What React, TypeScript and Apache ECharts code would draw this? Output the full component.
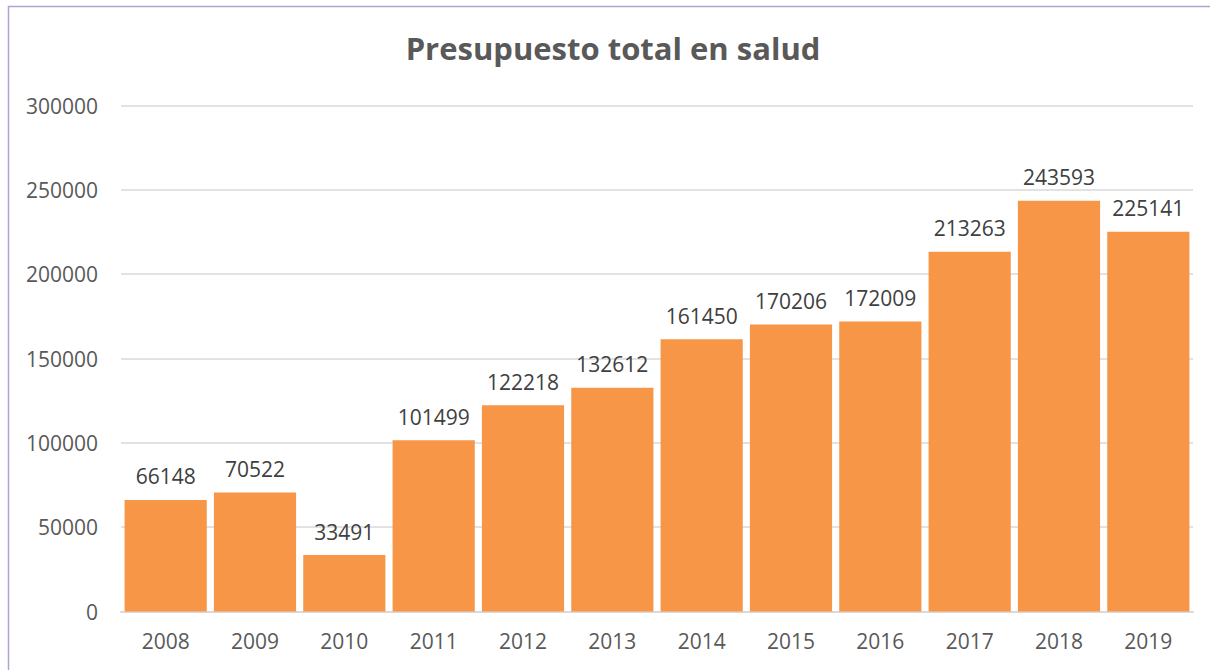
import React, { useEffect, useRef } from "react";
import * as echarts from "echarts";

const titleText = "Presupuesto total en salud";
const years = ["2008", "2009", "2010", "2011", "2012", "2013", "2014", "2015", "2016", "2017", "2018", "2019"];
const budget = [66148, 70522, 33491, 101499, 122218, 132612, 161450, 170206, 172009, 213263, 243593, 225141];

export default function App() {
  const ref = useRef<HTMLDivElement>(null);
  useEffect(() => {
    const chart = echarts.init(ref.current!, null, { renderer: "svg" });
    const font = "'Open Sans', 'Noto Sans', sans-serif";
    chart.setOption({
      animation: false,
      backgroundColor: "#ffffff",
      title: {
        text: titleText,
        left: 608,
        textAlign: "center",
        top: 27,
        textStyle: { fontFamily: font, fontSize: 31, fontWeight: "bold", color: "#595959" },
      },
      graphic: [
        {
          type: "rect",
          shape: { x: 8.5, y: 6.5, width: 1300, height: 700 },
          style: { fill: "none", stroke: "#b4a2d0", lineWidth: 1.5 },
          silent: true,
        },
      ],
      grid: { left: 121, right: 17, top: 105.5, bottom: 58.5, containLabel: false },
      xAxis: {
        type: "category",
        data: years,
        axisLine: { lineStyle: { color: "#d9d9d9", width: 2 } },
        axisTick: { show: false },
        axisLabel: { fontFamily: font, fontSize: 21, color: "#595959", margin: 19 },
      },
      yAxis: {
        type: "value",
        min: 0,
        max: 300000,
        interval: 50000,
        axisLine: { show: false },
        axisTick: { show: false },
        splitLine: { lineStyle: { color: "#d9d9d9", width: 1.5 } },
        axisLabel: {
          fontFamily: font,
          fontSize: 21,
          color: "#595959",
          margin: 23,
          formatter: (v: number) => String(v),
        },
      },
      series: [
        {
          type: "bar",
          data: budget,
          barCategoryGap: "8%",
          itemStyle: { color: "#f79646" },
          label: {
            show: true,
            position: "top",
            distance: 13,
            fontFamily: font,
            fontSize: 21,
            color: "#404040",
          },
        },
      ],
    });
    return () => chart.dispose();
  }, []);
  return (
    <div style={{ position: "absolute", left: 0, top: 0, width: 1210, height: 670 }}>
      <div ref={ref} style={{ width: 1210, height: 670 }} />
    </div>
  );
}
